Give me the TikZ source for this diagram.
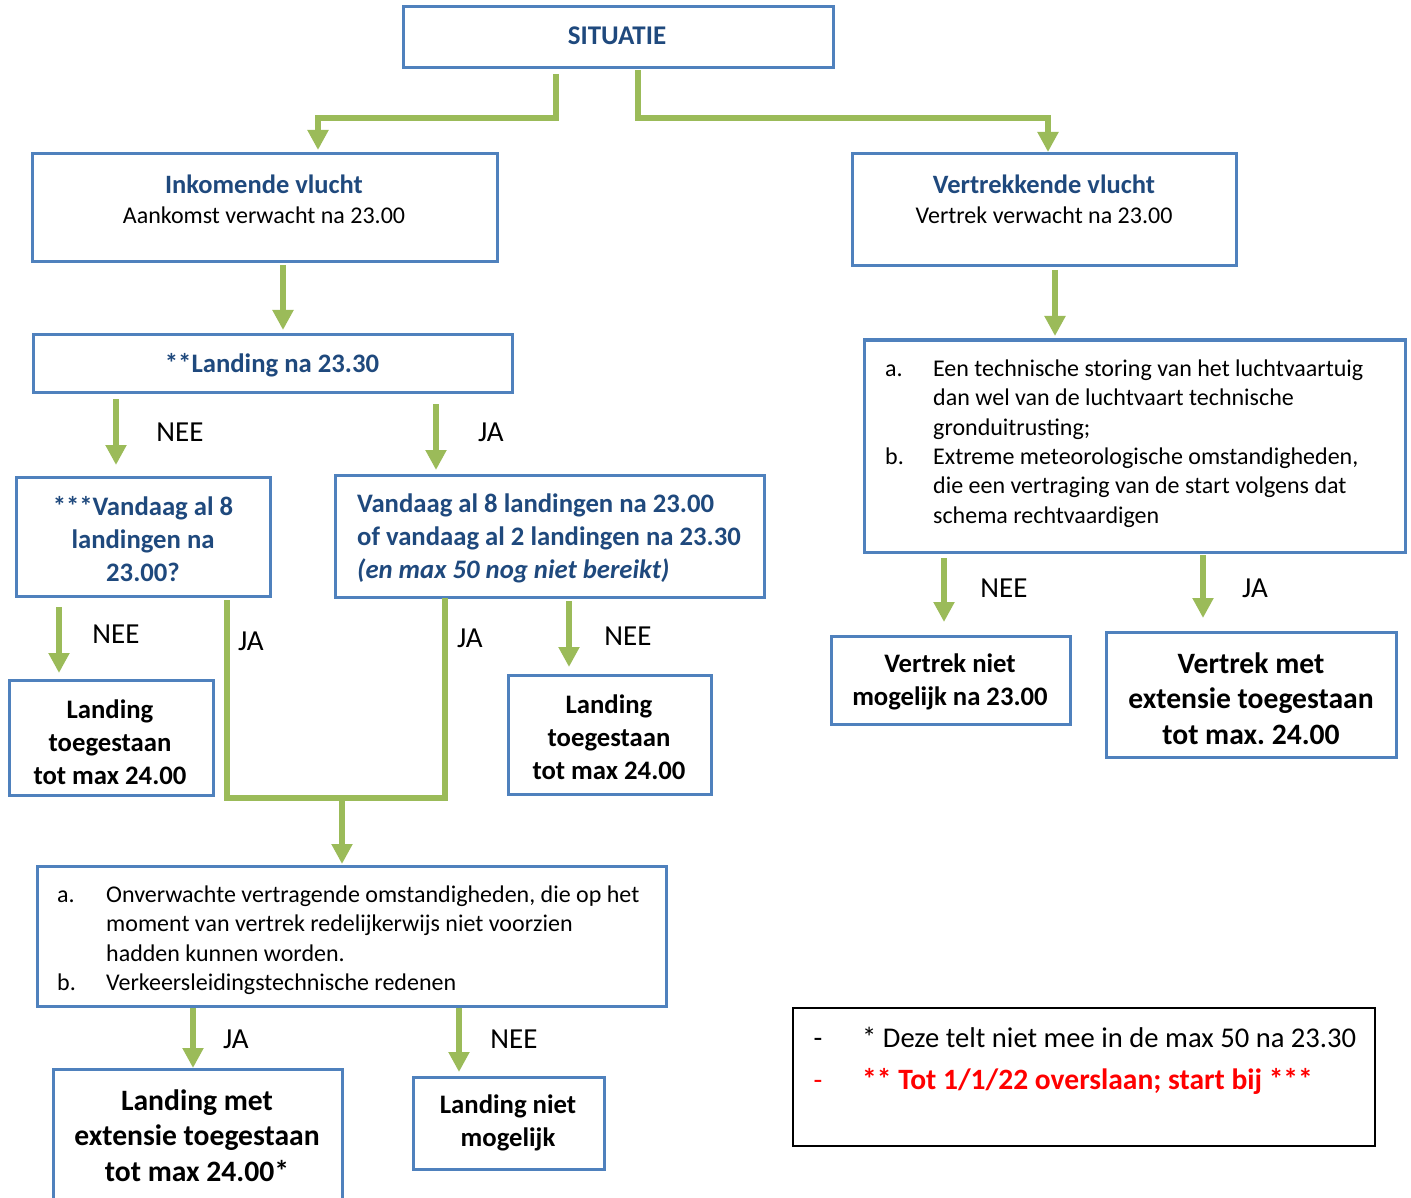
\documentclass[tikz,border=0pt]{standalone}
\usepackage{fontspec}
\setmainfont{Carlito}
\frenchspacing
\usetikzlibrary{arrows.meta}
\definecolor{boxblue}{HTML}{4F81BD}
\definecolor{arrgreen}{HTML}{9BBB59}
\definecolor{headblue}{HTML}{1F497D}
\definecolor{legred}{HTML}{FF0000}
\begin{document}
\begin{tikzpicture}[x=1pt,y=-1pt,
  box/.style={draw=boxblue,line width=3pt,inner sep=0pt,outer sep=0pt,anchor=north west},
  gline/.style={draw=arrgreen,line width=5.5pt},
  arr/.style={gline,-{Triangle[length=20pt,width=20pt]}},
  txt/.style={inner sep=0pt,align=center},
  body/.style={font=\fontsize{24}{29.3}\selectfont},
  head/.style={font=\fontsize{26.7}{33}\selectfont\bfseries,text=headblue},
  res/.style={font=\fontsize{26.7}{33}\selectfont\bfseries},
  resbig/.style={font=\fontsize{29.6}{35.5}\selectfont\bfseries},
  yn/.style={inner sep=0pt,font=\fontsize{29}{32}\selectfont},
  leg/.style={inner sep=0pt,font=\fontsize{28.6}{32}\selectfont}]
\useasboundingbox (0,0) rectangle (1411,1198);
% boxes
\node[box,minimum width=430pt,minimum height=61pt] (sit) at (403,7) {};
\node[box,minimum width=465pt,minimum height=108pt] (ink) at (32,154) {};
\node[box,minimum width=384pt,minimum height=112pt] (vtk) at (852,154) {};
\node[box,minimum width=479pt,minimum height=57pt] (lnd) at (33,335) {};
\node[box,minimum width=254pt,minimum height=119pt] (q3) at (16,477) {};
\node[box,minimum width=429pt,minimum height=122pt] (q8) at (335,475) {};
\node[box,minimum width=541pt,minimum height=212pt] (abR) at (864,340) {};
\node[box,minimum width=239pt,minimum height=88pt] (vnm) at (831,636) {};
\node[box,minimum width=290pt,minimum height=125pt] (vme) at (1106,632) {};
\node[box,minimum width=204pt,minimum height=115pt] (lt1) at (9,680) {};
\node[box,minimum width=203pt,minimum height=119pt] (lt2) at (508,675) {};
\node[box,minimum width=629pt,minimum height=140pt] (abL) at (37,866) {};
\node[box,draw=none,minimum width=289pt,minimum height=134pt] (lme) at (53,1069) {};
\draw[draw=boxblue,line width=3pt] (lme.south west) -- (lme.north west) -- (lme.north east) -- (lme.south east);
\node[box,minimum width=191pt,minimum height=92pt] (lnm) at (413,1077) {};
\node[box,draw=black,line width=2pt,minimum width=582pt,minimum height=138pt] (leg) at (793,1008) {};
% texts
\node[txt,head,font=\fontsize{27}{30}\selectfont\bfseries] (tsit) at (617,36) {SITUATIE};
\node[txt,font=\fontsize{24}{30}\selectfont] (tink) at (264,199) {{\fontsize{26.5}{30}\selectfont\bfseries\color{headblue}Inkomende vlucht}\\Aankomst verwacht na 23.00};
\node[txt,font=\fontsize{24}{30}\selectfont] (tvtk) at (1044,199) {{\fontsize{26.5}{30}\selectfont\bfseries\color{headblue}Vertrekkende vlucht}\\Vertrek verwacht na 23.00};
\node[txt,head] (tlnd) at (272,365) {**Landing na 23.30};
\node[txt,head] (tq3) at (143,539.5) {***Vandaag al 8\\landingen na\\23.00?};
\node[txt,head,align=left,anchor=west] (tq8) at (357,538.5) {Vandaag al 8 landingen na 23.00\\of vandaag al 2 landingen na 23.30\\\textit{(en max 50 nog niet bereikt)}};
\node[txt,body,anchor=west] (tabR) at (885,444) {\begin{tabular}{@{}p{48pt}@{}l@{}}
a. & Een technische storing van het luchtvaartuig\\
 & dan wel van de luchtvaart technische\\
 & gronduitrusting;\\
b. & Extreme meteorologische omstandigheden,\\
 & die een vertraging van de start volgens dat\\
 & schema rechtvaardigen
\end{tabular}};
\node[txt,res] (tvnm) at (950,682) {Vertrek niet\\mogelijk na 23.00};
\node[txt,resbig] (tvme) at (1251,698.5) {Vertrek met\\extensie toegestaan\\tot max. 24.00};
\node[txt,res] (tlt1) at (110,742) {Landing\\toegestaan\\tot max 24.00};
\node[txt,res] (tlt2) at (609,737) {Landing\\toegestaan\\tot max 24.00};
\node[txt,body,anchor=west] (tabL) at (57,940.5) {\begin{tabular}{@{}p{49pt}@{}l@{}}
a. & Onverwachte vertragende omstandigheden, die op het\\
 & moment van vertrek redelijkerwijs niet voorzien\\
 & hadden kunnen worden.\\
b. & Verkeersleidingstechnische redenen
\end{tabular}};
\node[txt,resbig] (tlme) at (197,1135.5) {Landing met\\extensie toegestaan\\tot max 24.00*};
\node[txt,res] (tlnm) at (508,1123) {Landing niet\\mogelijk};
\node[leg,anchor=base] (lg1d) at (818,1047) {-};
\node[leg,anchor=base west] (lg1) at (862,1047) {* Deze telt niet mee in de max 50 na 23.30};
\node[leg,text=legred,anchor=base] (lg2d) at (818,1089) {-};
\node[leg,font=\fontsize{29.5}{32}\selectfont\bfseries,text=legred,anchor=base west] (lg2) at (862,1089) {** Tot 1/1/22 overslaan; start bij ***};
% connectors
\draw[arr] ([xshift=-62pt,yshift=-6pt]sit.south) |- ([xshift=53.5pt,yshift=36pt]ink.north) -- ([xshift=53.5pt,yshift=4pt]ink.north);
\draw[arr] ([xshift=20pt,yshift=-2pt]sit.south) |- ([xshift=4pt,yshift=36pt]vtk.north) -- ([xshift=4pt,yshift=2pt]vtk.north);
\draw[arr] ([xshift=18.5pt,yshift=-3pt]ink.south) -- ([xshift=10.5pt,yshift=5pt]lnd.north);
\draw[arr] ([xshift=11pt,yshift=-4pt]vtk.south) -- ([xshift=-79.5pt,yshift=4pt]abR.north);
\draw[arr] ([xshift=-156.5pt,yshift=-7pt]lnd.south) -- ([xshift=-27pt,yshift=12pt]q3.north);
\draw[arr] ([xshift=163.5pt,yshift=-12pt]lnd.south) -- ([xshift=-113.5pt,yshift=5pt]q8.north);
\draw[arr] ([xshift=-84pt,yshift=-11pt]q3.south) -- ([xshift=-52pt,yshift=7pt]lt1.north);
\draw[arr] ([xshift=19.5pt,yshift=-4pt]q8.south) -- ([xshift=-40.5pt,yshift=8pt]lt2.north);
\coordinate (jn) at (342,798);
\draw[gline] ([xshift=84pt,yshift=-4pt]q3.south) |- ([xshift=103pt]jn) -- ([xshift=-104.5pt,yshift=-1pt]q8.south);
\draw[arr] (jn) -- ([xshift=-9.5pt,yshift=2pt]abL.north);
\draw[arr] ([xshift=-190.5pt,yshift=-6pt]abR.south) -- ([xshift=-6.5pt,yshift=14pt]vnm.north);
\draw[arr] ([xshift=68.5pt,yshift=-3pt]abR.south) -- ([xshift=-48pt,yshift=14pt]vme.north);
\draw[arr] ([xshift=-158.5pt,yshift=-2pt]abL.south) -- ([xshift=-4.5pt,yshift=1pt]lme.north);
\draw[arr] ([xshift=107.5pt,yshift=-2pt]abL.south) -- ([xshift=-49.5pt,yshift=5pt]lnm.north);
% yes/no labels
\node[yn] (n1) at (180,432) {NEE};
\node[yn] (j1) at (491,432) {JA};
\node[yn] (n2) at (116,634) {NEE};
\node[yn] (j2) at (251,641) {JA};
\node[yn] (j3) at (470,638) {JA};
\node[yn] (n3) at (628,636) {NEE};
\node[yn] (n4) at (1004,588) {NEE};
\node[yn] (j4) at (1255,588) {JA};
\node[yn] (j5) at (236,1039) {JA};
\node[yn] (n5) at (514,1039) {NEE};
\end{tikzpicture}
\end{document}
